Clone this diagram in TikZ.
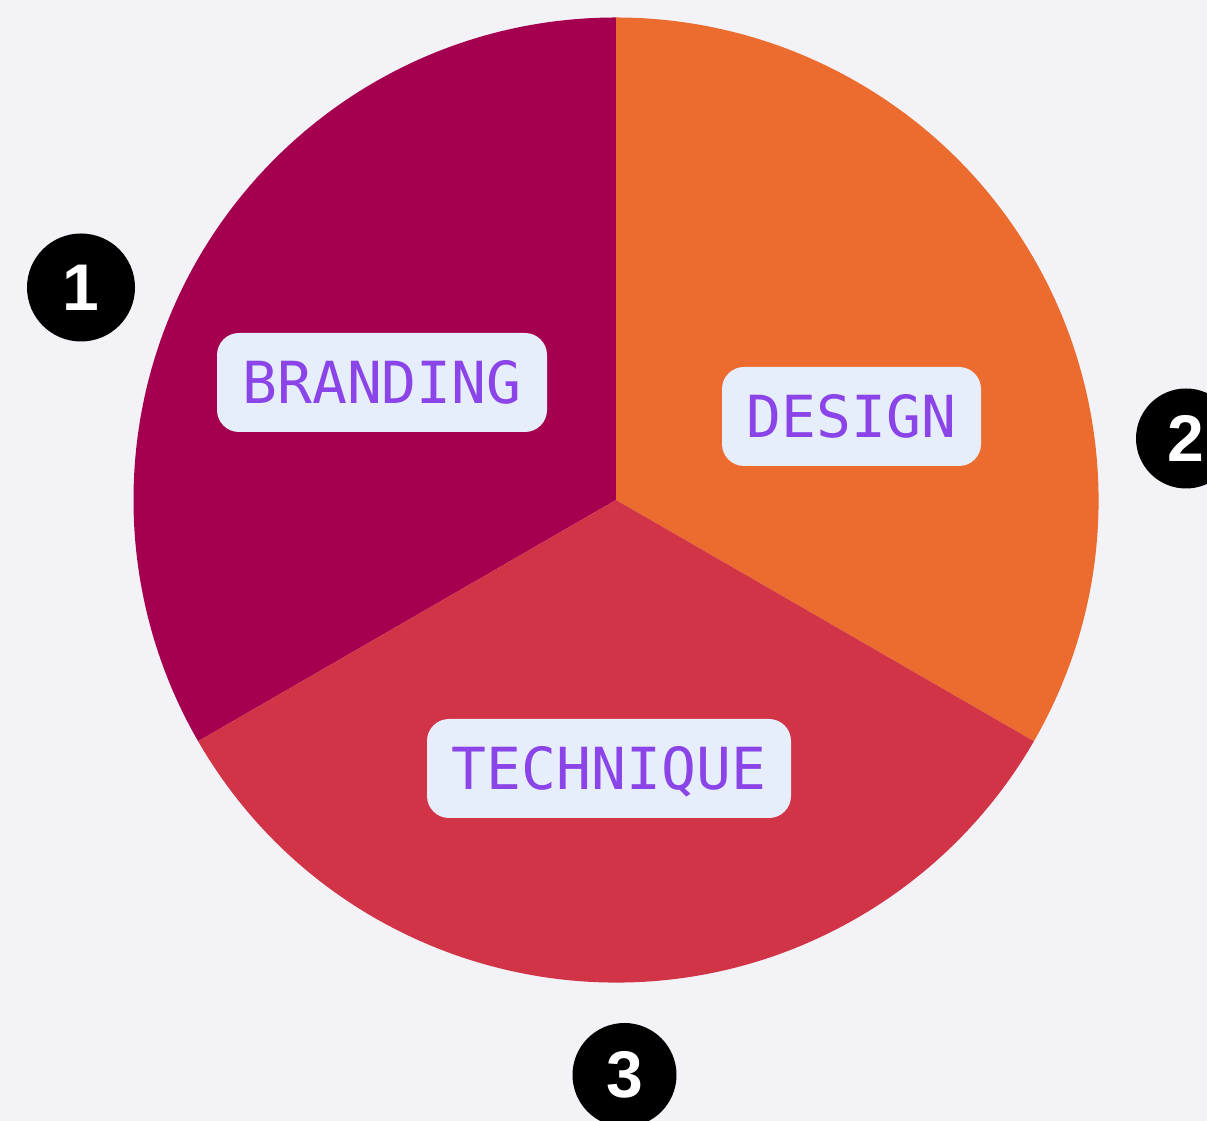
\documentclass[tikz,border=0pt]{standalone}
\usepackage{fontspec}
\setmainfont{Liberation Sans}
\newfontfamily\labelmono{DejaVu Sans Mono}
\newfontfamily\badgefont{Liberation Sans Bold}
\definecolor{bgc}{HTML}{F3F2F7}
\definecolor{brandc}{HTML}{A5004F}
\definecolor{designc}{HTML}{EC6B2F}
\definecolor{techc}{HTML}{D13347}
\definecolor{boxc}{HTML}{E6EEFB}
\definecolor{txtc}{HTML}{8B44E8}
\tikzset{
  slicelabel/.style={fill=boxc, rounded corners=22pt, text=txtc, inner sep=0pt,
    minimum height=99pt, text height=42pt, text depth=0pt,
    font=\labelmono\fontsize{58}{62}\selectfont},
  badge/.style={circle, fill=black, text=white, inner sep=0pt,
    font=\badgefont\fontsize{66}{72}\selectfont}
}
\begin{document}
\begin{tikzpicture}[x=1pt,y=1pt]
  \useasboundingbox (0,0) rectangle (1207,1121);
  \clip (0,0) rectangle (1207,1121);
  \fill[bgc] (0,0) rectangle (1207,1121);
  \coordinate (c) at (616,621);
  \def\R{482.5}
  \fill[brandc] (c) -- ++(90:\R) arc[start angle=90, end angle=210, radius=\R] -- cycle;
  \fill[designc] (c) -- ++(-30:\R) arc[start angle=-30, end angle=90, radius=\R] -- cycle;
  \fill[techc] (c) -- ++(210:\R) arc[start angle=210, end angle=330, radius=\R] -- cycle;
  \node[slicelabel, minimum width=330pt] (branding) at (382,738.5) {BRANDING};
  \node[slicelabel, minimum width=259pt] (design) at (851.5,704.5) {DESIGN};
  \node[slicelabel, minimum width=364pt] (technique) at (609,352.5) {TECHNIQUE};
  \node[badge, minimum size=108pt] (b1) at (81,833.5) {1};
  \node[badge, minimum size=100pt] (b2) at (1186,682.5) {2};
  \node[badge, minimum size=104pt] (b3) at (624.5,46) {3};
\end{tikzpicture}
\end{document}
